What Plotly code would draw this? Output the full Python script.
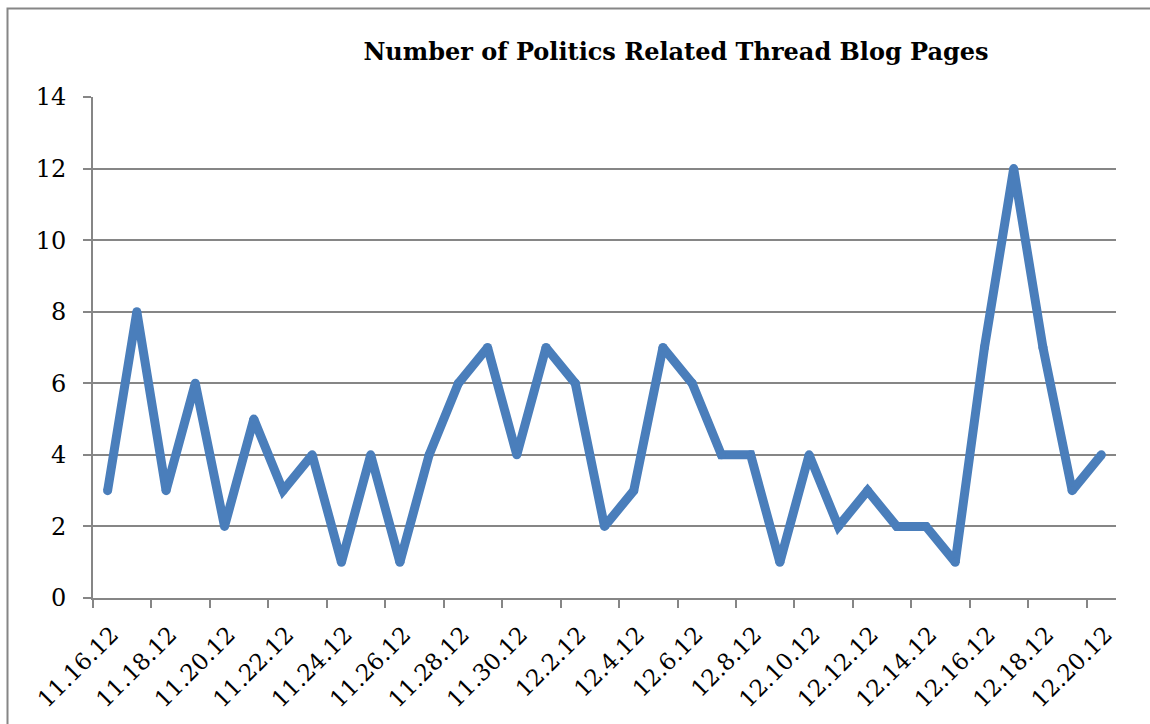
import plotly.graph_objects as go

dates = ["11.16.12", "11.17.12", "11.18.12", "11.19.12", "11.20.12", "11.21.12", "11.22.12",
         "11.23.12", "11.24.12", "11.25.12", "11.26.12", "11.27.12", "11.28.12", "11.29.12",
         "11.30.12", "12.1.12", "12.2.12", "12.3.12", "12.4.12", "12.5.12", "12.6.12",
         "12.7.12", "12.8.12", "12.9.12", "12.10.12", "12.11.12", "12.12.12", "12.13.12",
         "12.14.12", "12.15.12", "12.16.12", "12.17.12", "12.18.12", "12.19.12", "12.20.12"]
pages = [3, 8, 3, 6, 2, 5, 3, 4, 1, 4, 1, 4, 6, 7, 4, 7, 6, 2, 3, 7, 6, 4, 4, 1, 4, 2, 3, 2,
         2, 1, 7, 12, 7, 3, 4]
y_ticks = [0, 2, 4, 6, 8, 10, 12, 14]
title_text = "Number of Politics Related Thread Blog Pages"

idx = list(range(len(dates)))
label_idx = idx[::2]
label_txt = [dates[i] for i in label_idx]
boundary_ticks = [i - 0.5 for i in label_idx]

W, H = 1150, 724
L, R, T, B = 93, 34, 97, 126
pw, ph = W - L - R, H - T - B
GREY = "#868686"
BLUE = "#4A7EBB"
FONT = "DejaVu Serif"

fig = go.Figure()
fig.add_trace(go.Scatter(
    x=idx, y=pages, mode="lines+markers",
    line=dict(color=BLUE, width=9),
    marker=dict(color=BLUE, size=9, line=dict(width=0)),
    hoverinfo="skip", showlegend=False,
))
# invisible trace to activate secondary x axis for boundary tick marks
fig.add_trace(go.Scatter(x=[idx[0]], y=[pages[0]], xaxis="x2", mode="markers",
                         marker=dict(opacity=0), showlegend=False, hoverinfo="skip"))

fig.update_layout(
    width=W, height=H,
    margin=dict(l=L, r=R, t=T, b=B, autoexpand=False),
    paper_bgcolor="white", plot_bgcolor="white",
    font=dict(family=FONT, color="black", size=24),
    title=dict(text=title_text, x=(676 - L) / pw, xref="paper", xanchor="center",
               y=1 - 52 / H, yref="container", yanchor="middle",
               font=dict(family=FONT, size=24, color="black", weight="bold")),
    xaxis=dict(
        range=[-0.5, len(dates) - 0.5], tickmode="array", tickvals=label_idx, ticktext=label_txt,
        tickangle=-45, ticks="", showgrid=False, zeroline=False,
        showline=True, linecolor=GREY, linewidth=2, automargin=False,
        tickfont=dict(family=FONT, size=23), ticklabelstandoff=12, ticklabelshift=4,
    ),
    xaxis2=dict(
        overlaying="x", side="bottom", anchor="y", automargin=False,
        range=[-0.5, len(dates) - 0.5], tickmode="array", tickvals=boundary_ticks,
        ticktext=["" for _ in boundary_ticks], ticks="outside", ticklen=9, tickwidth=2,
        tickcolor=GREY, showgrid=False, zeroline=False, showline=False,
    ),
    yaxis=dict(
        range=[0, 14], tickmode="array", tickvals=y_ticks, automargin=False,
        ticks="outside", ticklen=8, tickwidth=2, tickcolor=GREY,
        showgrid=True, gridcolor=GREY, gridwidth=2,
        showline=True, linecolor=GREY, linewidth=2, zeroline=False,
        tickfont=dict(family=FONT, size=24), ticklabelstandoff=12,
    ),
    shapes=[dict(type="rect", xref="paper", yref="paper",
                 x0=(7.5 - L) / pw, x1=(W + 20 - L) / pw,
                 y0=-(H + 20 - (H - B)) / ph, y1=(H - B - 8.5) / ph,
                 line=dict(color=GREY, width=2), fillcolor="rgba(0,0,0,0)", layer="below")],
)

fig.write_html("out.html")
